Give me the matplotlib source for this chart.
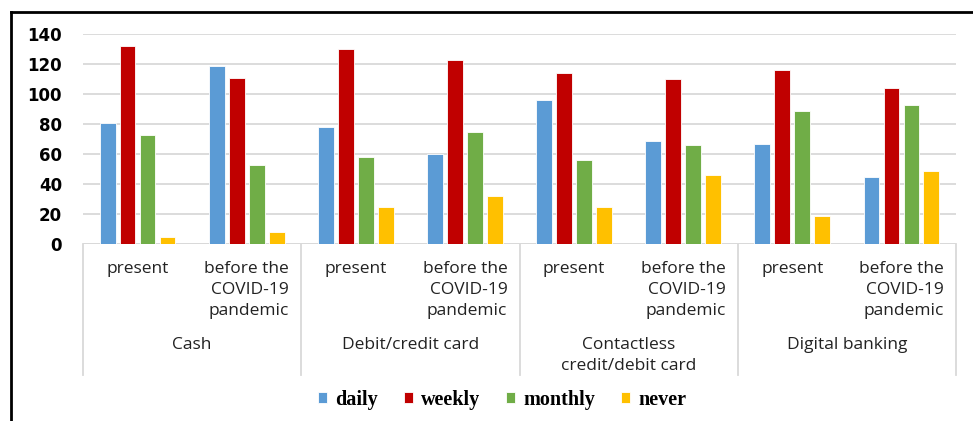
import matplotlib; matplotlib.use("Agg")
import matplotlib.pyplot as plt
import numpy as np

groups = ["Cash", "Debit/credit card", "Contactless\ncredit/debit card", "Digital banking"]
periods = ["present", "before the\nCOVID-19\npandemic"]
series = ["daily", "weekly", "monthly", "never"]
colors = ["#5B9BD5", "#C00000", "#70AD47", "#FFC000"]

# one value per (group, period), in group order
daily   = [81, 119, 78, 60, 96, 69, 67, 45]
weekly  = [132, 111, 130, 123, 114, 110, 116, 104]
monthly = [73, 53, 58, 75, 56, 66, 89, 93]
never   = [5, 8, 25, 32, 25, 46, 19, 49]
values = [daily, weekly, monthly, never]

W, H = 973, 421
fig = plt.figure(figsize=(W/100, H/100), dpi=100)
ax = fig.add_axes([83/W, (H-244)/H, 873/W, 210/H])

x = np.arange(len(groups)*len(periods))
step, bw = 0.183, 0.145
for i, (name, vals, c) in enumerate(zip(series, values, colors)):
    ax.bar(x + (i-1.5)*step, vals, bw, color=c, edgecolor="white", lw=0.6, label=name, zorder=3)

ax.set_xlim(-0.5, len(x)-0.5)
ax.set_ylim(0, 140)
ax.set_yticks(range(0, 141, 20))
ax.set_xticks([])
for s in ax.spines.values():
    s.set_visible(False)
ax.grid(axis="y", color="#D9D9D9", lw=1.3, zorder=0)
ax.axhline(0, color="#D9D9D9", lw=1.3, zorder=1)
ax.tick_params(axis="y", length=0, pad=15, labelsize=12)
for t in ax.get_yticklabels():
    t.set_fontweight("bold"); t.set_family("DejaVu Sans")

# two-level category axis below the plot
tr = ax.get_xaxis_transform()
ybot = -(375-244)/210
for b in np.arange(-0.5, len(x), 2):
    ax.plot([b, b], [0, ybot], transform=tr, color="#D9D9D9", lw=1.3, clip_on=False)
lab = dict(fontsize=12.5, family="Open Sans", color="#222222")
for k in x:
    ax.text(k, -(261-244)/210, periods[k % 2], transform=tr, ha="center", va="top",
            multialignment="right", linespacing=1.4, **lab)
for g, name in enumerate(groups):
    ax.text(2*g+0.5, -(337-244)/210, name, transform=tr, ha="center", va="top",
            linespacing=1.4, **lab)

# outer frame: top and left edges only
fig.add_artist(plt.Line2D([11/W, 1], [1-12/H, 1-12/H], color="black", lw=2, transform=fig.transFigure))
fig.add_artist(plt.Line2D([11/W, 11/W], [0, 1-12/H], color="black", lw=2, transform=fig.transFigure))

fig.legend(loc="center", bbox_to_anchor=(502/W, 1-400/H), ncol=4, frameon=False,
           prop=dict(family="Liberation Serif", weight="bold", size=14.5),
           handlelength=0.45, handleheight=0.45, handletextpad=0.4, columnspacing=1.3)

fig.savefig("out.png", dpi=100)
